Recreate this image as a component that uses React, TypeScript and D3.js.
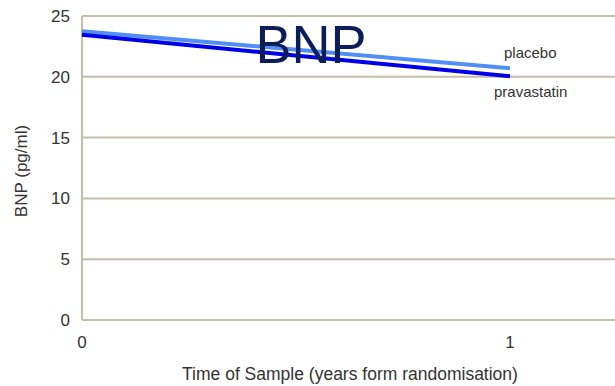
import React from "react";
import * as d3 from "d3";

const years = [0, 1];
const placebo = [23.75, 20.7];
const pravastatin = [23.45, 20.05];
const yTicks = [0, 5, 10, 15, 20, 25];
const xTicks = [0, 1];

const W = 615;
const H = 386;
const left = 82;
const top = 16;
const bottom = 320;

export default function App() {
  const x = d3.scaleLinear().domain([0, 1]).range([left, 510]);
  const y = d3.scaleLinear().domain([0, 25]).range([bottom, top]);
  const line = d3
    .line<number>()
    .x((_, i) => x(years[i]))
    .y((d) => y(d));
  const font = "Liberation Sans, Arial, sans-serif";
  const grid = "#c3bfab";
  return (
    <svg width={W} height={H} style={{ position: "absolute", left: 0, top: 0 }} fontFamily={font}>
      <rect width={W} height={H} fill="#fff" />
      {yTicks.map((t) => (
        <g key={t}>
          <line x1={left} x2={W} y1={y(t)} y2={y(t)} stroke={grid} strokeWidth={2} />
          <text x={70} y={y(t)} dy="0.35em" textAnchor="end" fontSize={17} fill="#333">
            {t}
          </text>
        </g>
      ))}
      <line x1={left} x2={left} y1={top} y2={bottom} stroke={grid} strokeWidth={2} />
      {xTicks.map((t) => (
        <text key={t} x={x(t)} y={348} textAnchor="middle" fontSize={17} fill="#333">
          {t}
        </text>
      ))}
      <path d={line(placebo) ?? ""} fill="none" stroke="#4f8ef5" strokeWidth={4} />
      <path d={line(pravastatin) ?? ""} fill="none" stroke="#0000e8" strokeWidth={4} />
      <text x={311} y={63} textAnchor="middle" fontSize={54} fill="#0d1d5a">
        BNP
      </text>
      <text x={504} y={58} fontSize={15} fill="#333">
        placebo
      </text>
      <text x={494} y={97} fontSize={15} fill="#333">
        pravastatin
      </text>
      <text x={350} y={380} textAnchor="middle" fontSize={17.5} fill="#333">
        Time of Sample (years form randomisation)
      </text>
      <text
        transform={`translate(27,${(top + bottom) / 2 + 3}) rotate(-90)`}
        textAnchor="middle"
        fontSize={17}
        fill="#333"
      >
        BNP (pg/ml)
      </text>
    </svg>
  );
}
